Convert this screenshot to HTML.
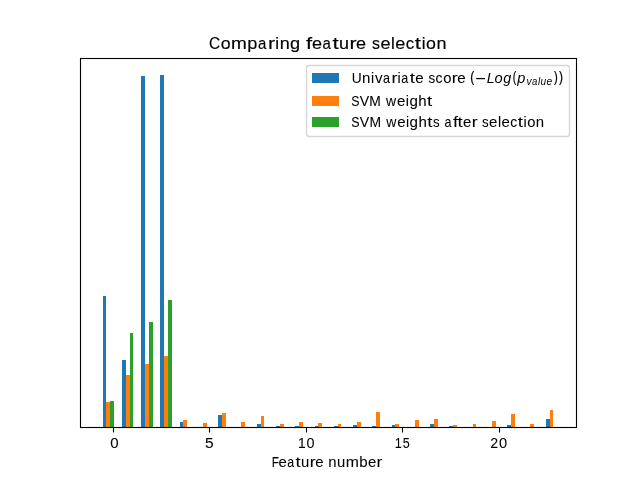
<!DOCTYPE html>
<html><head><meta charset="utf-8"><title>Comparing feature selection</title><style>
html,body{margin:0;padding:0;background:#fff;width:640px;height:480px;overflow:hidden}
svg{display:block}
text{font-family:"Liberation Sans",sans-serif;fill:#000}
</style></head><body>
<div style="will-change:transform;width:640px;height:480px"><svg width="640" height="480" viewBox="0 0 640 480">
<rect x="0" y="0" width="640" height="480" fill="#fff"/>
<g shape-rendering="crispEdges">
<rect x="103" y="296" width="3" height="131" fill="#1f77b4"/>
<rect x="106" y="402" width="4" height="25" fill="#ff7f0e"/>
<rect x="110" y="401" width="4" height="26" fill="#2ca02c"/>
<rect x="122" y="360" width="4" height="67" fill="#1f77b4"/>
<rect x="126" y="375" width="4" height="52" fill="#ff7f0e"/>
<rect x="130" y="333" width="3" height="94" fill="#2ca02c"/>
<rect x="141" y="76" width="4" height="351" fill="#1f77b4"/>
<rect x="145" y="364" width="4" height="63" fill="#ff7f0e"/>
<rect x="149" y="322" width="4" height="105" fill="#2ca02c"/>
<rect x="160" y="75" width="4" height="352" fill="#1f77b4"/>
<rect x="164" y="356" width="4" height="71" fill="#ff7f0e"/>
<rect x="168" y="300" width="4" height="127" fill="#2ca02c"/>
<rect x="180" y="422" width="3" height="5" fill="#1f77b4"/>
<rect x="183" y="420" width="4" height="7" fill="#ff7f0e"/>
<rect x="203" y="423" width="4" height="4" fill="#ff7f0e"/>
<rect x="218" y="415" width="4" height="12" fill="#1f77b4"/>
<rect x="222" y="413" width="4" height="14" fill="#ff7f0e"/>
<rect x="241" y="422" width="4" height="5" fill="#ff7f0e"/>
<rect x="257" y="424" width="4" height="3" fill="#1f77b4"/>
<rect x="261" y="416" width="3" height="11" fill="#ff7f0e"/>
<rect x="276" y="426" width="4" height="1" fill="#1f77b4"/>
<rect x="280" y="424" width="4" height="3" fill="#ff7f0e"/>
<rect x="295" y="426" width="4" height="1" fill="#1f77b4"/>
<rect x="299" y="422" width="4" height="5" fill="#ff7f0e"/>
<rect x="315" y="426" width="3" height="1" fill="#1f77b4"/>
<rect x="318" y="423" width="4" height="4" fill="#ff7f0e"/>
<rect x="334" y="426" width="4" height="1" fill="#1f77b4"/>
<rect x="338" y="424" width="3" height="3" fill="#ff7f0e"/>
<rect x="353" y="425" width="4" height="2" fill="#1f77b4"/>
<rect x="357" y="422" width="4" height="5" fill="#ff7f0e"/>
<rect x="372" y="426" width="4" height="1" fill="#1f77b4"/>
<rect x="376" y="412" width="4" height="15" fill="#ff7f0e"/>
<rect x="392" y="425" width="3" height="2" fill="#1f77b4"/>
<rect x="395" y="424" width="4" height="3" fill="#ff7f0e"/>
<rect x="415" y="420" width="4" height="7" fill="#ff7f0e"/>
<rect x="430" y="424" width="4" height="3" fill="#1f77b4"/>
<rect x="434" y="419" width="4" height="8" fill="#ff7f0e"/>
<rect x="449" y="426" width="4" height="1" fill="#1f77b4"/>
<rect x="453" y="425" width="4" height="2" fill="#ff7f0e"/>
<rect x="473" y="424" width="3" height="3" fill="#ff7f0e"/>
<rect x="492" y="421" width="4" height="6" fill="#ff7f0e"/>
<rect x="507" y="425" width="4" height="2" fill="#1f77b4"/>
<rect x="511" y="414" width="4" height="13" fill="#ff7f0e"/>
<rect x="530" y="424" width="4" height="3" fill="#ff7f0e"/>
<rect x="546" y="419" width="4" height="8" fill="#1f77b4"/>
<rect x="550" y="410" width="3" height="17" fill="#ff7f0e"/>
</g>
<g shape-rendering="crispEdges">
<rect x="79" y="58" width="1" height="370" fill="#000" fill-opacity="0.055"/>
<rect x="81" y="59" width="1" height="368" fill="#000" fill-opacity="0.055"/>
<rect x="575" y="59" width="1" height="368" fill="#000" fill-opacity="0.055"/>
<rect x="577" y="58" width="1" height="370" fill="#000" fill-opacity="0.055"/>
<rect x="80" y="57" width="497" height="1" fill="#000" fill-opacity="0.055"/>
<rect x="82" y="59" width="493" height="1" fill="#000" fill-opacity="0.055"/>
<rect x="82" y="426" width="493" height="1" fill="#000" fill-opacity="0.055"/>
<rect x="80" y="428" width="497" height="1" fill="#000" fill-opacity="0.055"/>
<rect x="80" y="58" width="1" height="370" fill="#000"/>
<rect x="576" y="58" width="1" height="370" fill="#000"/>
<rect x="80" y="58" width="497" height="1" fill="#000"/>
<rect x="80" y="427" width="497" height="1" fill="#000"/>
</g>
<line x1="113.5" y1="427.5" x2="113.5" y2="432.5" stroke="#000" stroke-width="1.11"/>
<line x1="209.5" y1="427.5" x2="209.5" y2="432.5" stroke="#000" stroke-width="1.11"/>
<line x1="306.5" y1="427.5" x2="306.5" y2="432.5" stroke="#000" stroke-width="1.11"/>
<line x1="402.5" y1="427.5" x2="402.5" y2="432.5" stroke="#000" stroke-width="1.11"/>
<line x1="499.5" y1="427.5" x2="499.5" y2="432.5" stroke="#000" stroke-width="1.11"/>
<text x="208.96" y="48.75" font-size="17.4" stroke="#000" stroke-width="0.16" textLength="11.20" lengthAdjust="spacingAndGlyphs">C</text>
<text x="220.66" y="48.75" font-size="17.4" stroke="#000" stroke-width="0.16" textLength="9.88" lengthAdjust="spacingAndGlyphs">o</text>
<text x="230.97" y="48.75" font-size="17.4" stroke="#000" stroke-width="0.16" textLength="15.86" lengthAdjust="spacingAndGlyphs">m</text>
<text x="247.34" y="48.75" font-size="17.4" stroke="#000" stroke-width="0.16" textLength="10.10" lengthAdjust="spacingAndGlyphs">p</text>
<text x="257.97" y="48.75" font-size="17.4" stroke="#000" stroke-width="0.16" textLength="8.35" lengthAdjust="spacingAndGlyphs">a</text>
<text x="267.95" y="48.75" font-size="17.4" stroke="#000" stroke-width="0.16" textLength="7.14" lengthAdjust="spacingAndGlyphs">r</text>
<text x="275.14" y="48.75" font-size="17.4" stroke="#000" stroke-width="0.16" textLength="3.81" lengthAdjust="spacingAndGlyphs">i</text>
<text x="279.69" y="48.75" font-size="17.4" stroke="#000" stroke-width="0.16" textLength="10.02" lengthAdjust="spacingAndGlyphs">n</text>
<text x="290.12" y="48.75" font-size="17.4" stroke="#000" stroke-width="0.16" textLength="10.10" lengthAdjust="spacingAndGlyphs">g</text>
<text x="305.95" y="48.75" font-size="17.4" stroke="#000" stroke-width="0.16" textLength="6.11" lengthAdjust="spacingAndGlyphs">f</text>
<text x="311.93" y="48.75" font-size="17.4" stroke="#000" stroke-width="0.16" textLength="10.04" lengthAdjust="spacingAndGlyphs">e</text>
<text x="322.42" y="48.75" font-size="17.4" stroke="#000" stroke-width="0.16" textLength="8.35" lengthAdjust="spacingAndGlyphs">a</text>
<text x="332.41" y="48.75" font-size="17.4" stroke="#000" stroke-width="0.16" textLength="6.20" lengthAdjust="spacingAndGlyphs">t</text>
<text x="339.09" y="48.75" font-size="17.4" stroke="#000" stroke-width="0.16" textLength="10.04" lengthAdjust="spacingAndGlyphs">u</text>
<text x="349.54" y="48.75" font-size="17.4" stroke="#000" stroke-width="0.16" textLength="7.14" lengthAdjust="spacingAndGlyphs">r</text>
<text x="356.10" y="48.75" font-size="17.4" stroke="#000" stroke-width="0.16" textLength="10.04" lengthAdjust="spacingAndGlyphs">e</text>
<text x="372.00" y="48.75" font-size="17.4" stroke="#000" stroke-width="0.16" textLength="8.00" lengthAdjust="spacingAndGlyphs">s</text>
<text x="380.41" y="48.75" font-size="17.4" stroke="#000" stroke-width="0.16" textLength="10.04" lengthAdjust="spacingAndGlyphs">e</text>
<text x="390.94" y="48.75" font-size="17.4" stroke="#000" stroke-width="0.16" textLength="3.81" lengthAdjust="spacingAndGlyphs">l</text>
<text x="395.33" y="48.75" font-size="17.4" stroke="#000" stroke-width="0.16" textLength="10.04" lengthAdjust="spacingAndGlyphs">e</text>
<text x="405.67" y="48.75" font-size="17.4" stroke="#000" stroke-width="0.16" textLength="8.38" lengthAdjust="spacingAndGlyphs">c</text>
<text x="414.77" y="48.75" font-size="17.4" stroke="#000" stroke-width="0.16" textLength="6.20" lengthAdjust="spacingAndGlyphs">t</text>
<text x="421.63" y="48.75" font-size="17.4" stroke="#000" stroke-width="0.16" textLength="3.81" lengthAdjust="spacingAndGlyphs">i</text>
<text x="426.03" y="48.75" font-size="17.4" stroke="#000" stroke-width="0.16" textLength="9.88" lengthAdjust="spacingAndGlyphs">o</text>
<text x="436.40" y="48.75" font-size="17.4" stroke="#000" stroke-width="0.16" textLength="10.02" lengthAdjust="spacingAndGlyphs">n</text>
<text x="271.69" y="467" font-size="14.5" stroke="#000" stroke-width="0.05" textLength="7.24" lengthAdjust="spacingAndGlyphs">F</text>
<text x="278.64" y="467" font-size="14.5" stroke="#000" stroke-width="0.05" textLength="8.31" lengthAdjust="spacingAndGlyphs">e</text>
<text x="287.32" y="467" font-size="14.5" stroke="#000" stroke-width="0.05" textLength="6.93" lengthAdjust="spacingAndGlyphs">a</text>
<text x="295.59" y="467" font-size="14.5" stroke="#000" stroke-width="0.05" textLength="5.13" lengthAdjust="spacingAndGlyphs">t</text>
<text x="301.14" y="467" font-size="14.5" stroke="#000" stroke-width="0.05" textLength="8.28" lengthAdjust="spacingAndGlyphs">u</text>
<text x="309.77" y="467" font-size="14.5" stroke="#000" stroke-width="0.05" textLength="5.89" lengthAdjust="spacingAndGlyphs">r</text>
<text x="315.25" y="467" font-size="14.5" stroke="#000" stroke-width="0.05" textLength="8.31" lengthAdjust="spacingAndGlyphs">e</text>
<text x="328.30" y="467" font-size="14.5" stroke="#000" stroke-width="0.05" textLength="8.28" lengthAdjust="spacingAndGlyphs">n</text>
<text x="337.01" y="467" font-size="14.5" stroke="#000" stroke-width="0.05" textLength="8.28" lengthAdjust="spacingAndGlyphs">u</text>
<text x="345.77" y="467" font-size="14.5" stroke="#000" stroke-width="0.05" textLength="13.13" lengthAdjust="spacingAndGlyphs">m</text>
<text x="359.32" y="467" font-size="14.5" stroke="#000" stroke-width="0.05" textLength="8.36" lengthAdjust="spacingAndGlyphs">b</text>
<text x="367.94" y="467" font-size="14.5" stroke="#000" stroke-width="0.05" textLength="8.31" lengthAdjust="spacingAndGlyphs">e</text>
<text x="376.40" y="467" font-size="14.5" stroke="#000" stroke-width="0.05" textLength="5.89" lengthAdjust="spacingAndGlyphs">r</text>
<text x="110.21" y="447.8" font-size="14.5" stroke="#000" stroke-width="0.05" textLength="8.38" lengthAdjust="spacingAndGlyphs">0</text>
<text x="205.13" y="447.8" font-size="14.5" stroke="#000" stroke-width="0.05" textLength="8.62" lengthAdjust="spacingAndGlyphs">5</text>
<text x="298.01" y="447.8" font-size="14.5" stroke="#000" stroke-width="0.05" textLength="7.66" lengthAdjust="spacingAndGlyphs">1</text>
<text x="306.61" y="447.8" font-size="14.5" stroke="#000" stroke-width="0.05" textLength="8.02" lengthAdjust="spacingAndGlyphs">0</text>
<text x="394.69" y="447.8" font-size="14.5" stroke="#000" stroke-width="0.05" textLength="7.10" lengthAdjust="spacingAndGlyphs">1</text>
<text x="402.82" y="447.8" font-size="14.5" stroke="#000" stroke-width="0.05" textLength="7.01" lengthAdjust="spacingAndGlyphs">5</text>
<text x="490.19" y="447.8" font-size="14.5" stroke="#000" stroke-width="0.05" textLength="7.88" lengthAdjust="spacingAndGlyphs">2</text>
<text x="499.11" y="447.8" font-size="14.5" stroke="#000" stroke-width="0.05" textLength="8.17" lengthAdjust="spacingAndGlyphs">0</text>
<rect x="306.5" y="65.5" width="263" height="71" rx="2.78" ry="2.78" fill="#fff" fill-opacity="0.8" stroke="#d6d6d6" stroke-width="1.39"/>
<g shape-rendering="crispEdges">
<rect x="312" y="73" width="27" height="10" fill="#1f77b4"/>
<rect x="312" y="96" width="27" height="10" fill="#ff7f0e"/>
<rect x="312" y="117" width="27" height="10" fill="#2ca02c"/>
</g>
<text x="351.74" y="82.84" font-size="14.5" stroke="#000" stroke-width="0.05" textLength="9.92" lengthAdjust="spacingAndGlyphs">U</text>
<text x="362.09" y="82.84" font-size="14.5" stroke="#000" stroke-width="0.05" textLength="8.36" lengthAdjust="spacingAndGlyphs">n</text>
<text x="371.03" y="82.84" font-size="14.5" stroke="#000" stroke-width="0.05" textLength="3.18" lengthAdjust="spacingAndGlyphs">i</text>
<text x="374.92" y="82.84" font-size="14.5" stroke="#000" stroke-width="0.05" textLength="7.53" lengthAdjust="spacingAndGlyphs">v</text>
<text x="383.11" y="82.84" font-size="14.5" stroke="#000" stroke-width="0.05" textLength="7.00" lengthAdjust="spacingAndGlyphs">a</text>
<text x="391.46" y="82.84" font-size="14.5" stroke="#000" stroke-width="0.05" textLength="5.95" lengthAdjust="spacingAndGlyphs">r</text>
<text x="397.47" y="82.84" font-size="14.5" stroke="#000" stroke-width="0.05" textLength="3.18" lengthAdjust="spacingAndGlyphs">i</text>
<text x="401.29" y="82.84" font-size="14.5" stroke="#000" stroke-width="0.05" textLength="7.00" lengthAdjust="spacingAndGlyphs">a</text>
<text x="409.65" y="82.84" font-size="14.5" stroke="#000" stroke-width="0.05" textLength="5.18" lengthAdjust="spacingAndGlyphs">t</text>
<text x="415.16" y="82.84" font-size="14.5" stroke="#000" stroke-width="0.05" textLength="8.39" lengthAdjust="spacingAndGlyphs">e</text>
<text x="428.44" y="82.84" font-size="14.5" stroke="#000" stroke-width="0.05" textLength="6.69" lengthAdjust="spacingAndGlyphs">s</text>
<text x="435.51" y="82.84" font-size="14.5" stroke="#000" stroke-width="0.05" textLength="7.00" lengthAdjust="spacingAndGlyphs">c</text>
<text x="443.16" y="82.84" font-size="14.5" stroke="#000" stroke-width="0.05" textLength="8.26" lengthAdjust="spacingAndGlyphs">o</text>
<text x="451.65" y="82.84" font-size="14.5" stroke="#000" stroke-width="0.05" textLength="5.95" lengthAdjust="spacingAndGlyphs">r</text>
<text x="457.18" y="82.84" font-size="14.5" stroke="#000" stroke-width="0.05" textLength="8.39" lengthAdjust="spacingAndGlyphs">e</text>
<text x="351.14" y="105.8" font-size="14.5" stroke="#000" stroke-width="0.05" textLength="8.25" lengthAdjust="spacingAndGlyphs">S</text>
<text x="359.64" y="105.8" font-size="14.5" stroke="#000" stroke-width="0.05" textLength="9.40" lengthAdjust="spacingAndGlyphs">V</text>
<text x="369.32" y="105.8" font-size="14.5" stroke="#000" stroke-width="0.05" textLength="11.55" lengthAdjust="spacingAndGlyphs">M</text>
<text x="386.10" y="105.8" font-size="14.5" stroke="#000" stroke-width="0.05" textLength="10.14" lengthAdjust="spacingAndGlyphs">w</text>
<text x="396.99" y="105.8" font-size="14.5" stroke="#000" stroke-width="0.05" textLength="8.34" lengthAdjust="spacingAndGlyphs">e</text>
<text x="405.77" y="105.8" font-size="14.5" stroke="#000" stroke-width="0.05" textLength="3.16" lengthAdjust="spacingAndGlyphs">i</text>
<text x="409.40" y="105.8" font-size="14.5" stroke="#000" stroke-width="0.05" textLength="8.40" lengthAdjust="spacingAndGlyphs">g</text>
<text x="418.30" y="105.8" font-size="14.5" stroke="#000" stroke-width="0.05" textLength="8.37" lengthAdjust="spacingAndGlyphs">h</text>
<text x="426.98" y="105.8" font-size="14.5" stroke="#000" stroke-width="0.05" textLength="5.16" lengthAdjust="spacingAndGlyphs">t</text>
<text x="351.14" y="126.7" font-size="14.5" stroke="#000" stroke-width="0.05" textLength="8.28" lengthAdjust="spacingAndGlyphs">S</text>
<text x="359.67" y="126.7" font-size="14.5" stroke="#000" stroke-width="0.05" textLength="9.43" lengthAdjust="spacingAndGlyphs">V</text>
<text x="369.38" y="126.7" font-size="14.5" stroke="#000" stroke-width="0.05" textLength="11.59" lengthAdjust="spacingAndGlyphs">M</text>
<text x="386.22" y="126.7" font-size="14.5" stroke="#000" stroke-width="0.05" textLength="10.18" lengthAdjust="spacingAndGlyphs">w</text>
<text x="397.15" y="126.7" font-size="14.5" stroke="#000" stroke-width="0.05" textLength="8.37" lengthAdjust="spacingAndGlyphs">e</text>
<text x="405.96" y="126.7" font-size="14.5" stroke="#000" stroke-width="0.05" textLength="3.17" lengthAdjust="spacingAndGlyphs">i</text>
<text x="409.61" y="126.7" font-size="14.5" stroke="#000" stroke-width="0.05" textLength="8.43" lengthAdjust="spacingAndGlyphs">g</text>
<text x="418.55" y="126.7" font-size="14.5" stroke="#000" stroke-width="0.05" textLength="8.40" lengthAdjust="spacingAndGlyphs">h</text>
<text x="427.25" y="126.7" font-size="14.5" stroke="#000" stroke-width="0.05" textLength="5.18" lengthAdjust="spacingAndGlyphs">t</text>
<text x="433.01" y="126.7" font-size="14.5" stroke="#000" stroke-width="0.05" textLength="6.68" lengthAdjust="spacingAndGlyphs">s</text>
<text x="444.62" y="126.7" font-size="14.5" stroke="#000" stroke-width="0.05" textLength="6.99" lengthAdjust="spacingAndGlyphs">a</text>
<text x="452.92" y="126.7" font-size="14.5" stroke="#000" stroke-width="0.05" textLength="5.10" lengthAdjust="spacingAndGlyphs">f</text>
<text x="457.62" y="126.7" font-size="14.5" stroke="#000" stroke-width="0.05" textLength="5.18" lengthAdjust="spacingAndGlyphs">t</text>
<text x="463.12" y="126.7" font-size="14.5" stroke="#000" stroke-width="0.05" textLength="8.37" lengthAdjust="spacingAndGlyphs">e</text>
<text x="471.65" y="126.7" font-size="14.5" stroke="#000" stroke-width="0.05" textLength="5.94" lengthAdjust="spacingAndGlyphs">r</text>
<text x="482.11" y="126.7" font-size="14.5" stroke="#000" stroke-width="0.05" textLength="6.68" lengthAdjust="spacingAndGlyphs">s</text>
<text x="489.12" y="126.7" font-size="14.5" stroke="#000" stroke-width="0.05" textLength="8.37" lengthAdjust="spacingAndGlyphs">e</text>
<text x="497.92" y="126.7" font-size="14.5" stroke="#000" stroke-width="0.05" textLength="3.17" lengthAdjust="spacingAndGlyphs">l</text>
<text x="501.57" y="126.7" font-size="14.5" stroke="#000" stroke-width="0.05" textLength="8.37" lengthAdjust="spacingAndGlyphs">e</text>
<text x="510.19" y="126.7" font-size="14.5" stroke="#000" stroke-width="0.05" textLength="6.99" lengthAdjust="spacingAndGlyphs">c</text>
<text x="517.78" y="126.7" font-size="14.5" stroke="#000" stroke-width="0.05" textLength="5.18" lengthAdjust="spacingAndGlyphs">t</text>
<text x="523.51" y="126.7" font-size="14.5" stroke="#000" stroke-width="0.05" textLength="3.17" lengthAdjust="spacingAndGlyphs">i</text>
<text x="527.17" y="126.7" font-size="14.5" stroke="#000" stroke-width="0.05" textLength="8.25" lengthAdjust="spacingAndGlyphs">o</text>
<text x="535.83" y="126.7" font-size="14.5" stroke="#000" stroke-width="0.05" textLength="8.35" lengthAdjust="spacingAndGlyphs">n</text>
<text x="470.25" y="81.6" font-size="13.8" stroke="#000" stroke-width="0.22" textLength="4.02" lengthAdjust="spacingAndGlyphs">(</text>
<text x="512.65" y="81.6" font-size="13.8" stroke="#000" stroke-width="0.22" textLength="3.52" lengthAdjust="spacingAndGlyphs">(</text>
<text x="553.93" y="81.6" font-size="13.8" stroke="#000" stroke-width="0.22" textLength="3.77" lengthAdjust="spacingAndGlyphs">)</text>
<text x="558.93" y="81.6" font-size="13.8" stroke="#000" stroke-width="0.22" textLength="4.02" lengthAdjust="spacingAndGlyphs">)</text>
<text x="486.66" y="82.8" font-size="14.6" font-style="italic" textLength="7.95" lengthAdjust="spacingAndGlyphs">L</text>
<text x="494.61" y="82.8" font-size="14.6" font-style="italic" textLength="8.16" lengthAdjust="spacingAndGlyphs">o</text>
<text x="503.36" y="82.8" font-size="14.6" font-style="italic" textLength="7.96" lengthAdjust="spacingAndGlyphs">g</text>
<text x="517.26" y="82.8" font-size="14.6" font-style="italic" textLength="8.11" lengthAdjust="spacingAndGlyphs">p</text>
<text x="526.44" y="85.2" font-size="10.6" font-style="italic" textLength="5.11" lengthAdjust="spacingAndGlyphs">v</text>
<text x="532.10" y="85.2" font-size="10.6" font-style="italic" textLength="5.32" lengthAdjust="spacingAndGlyphs">a</text>
<text x="537.90" y="85.2" font-size="10.6" font-style="italic" textLength="2.18" lengthAdjust="spacingAndGlyphs">l</text>
<text x="540.47" y="85.2" font-size="10.6" font-style="italic" textLength="5.67" lengthAdjust="spacingAndGlyphs">u</text>
<text x="546.45" y="85.2" font-size="10.6" font-style="italic" textLength="5.68" lengthAdjust="spacingAndGlyphs">e</text>
<rect x="476.2" y="78.0" width="8.8" height="1.2" fill="#000"/>
</svg></div>
</body></html>
